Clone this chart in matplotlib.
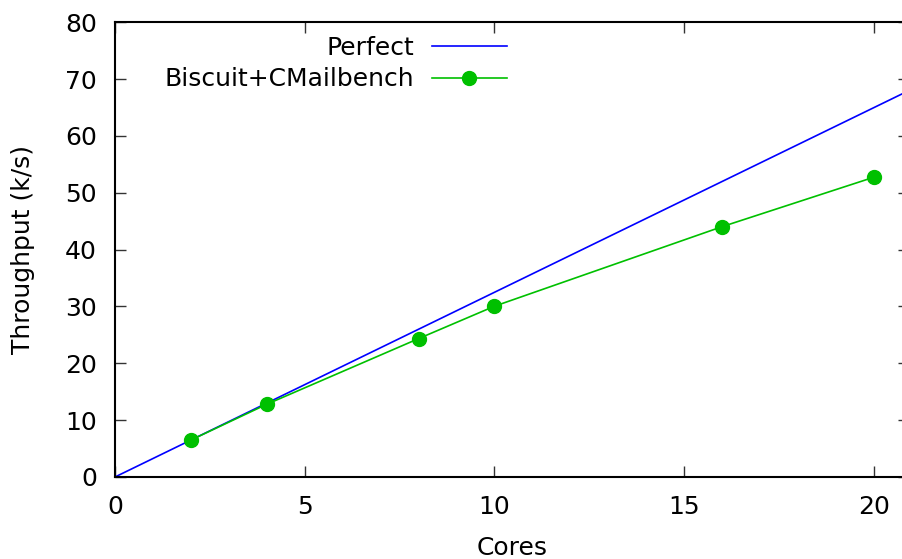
import matplotlib
matplotlib.use("Agg")
import matplotlib.pyplot as plt

cores = [2, 4, 8, 10, 16, 20]
throughput = [6.5, 12.8, 24.35, 30.05, 44.05, 52.75]
perfect_x = [0, 21]
perfect_y = [0, 68.25]
x_ticks = [0, 5, 10, 15, 20]
y_ticks = [0, 10, 20, 30, 40, 50, 60, 70, 80]

W, H = 903, 559
fig = plt.figure(figsize=(W / 100, H / 100), dpi=100)
left, right, top, bottom = 115, 909, 22.3, 477
ax = fig.add_axes([left / W, 1 - bottom / H, (right - left) / W, (bottom - top) / H])

ax.plot(perfect_x, perfect_y, color="#0000ff", lw=1.2, label="Perfect")
ax.plot(cores, throughput, color="#00c000", lw=1.2, marker="o", markersize=10,
        label="Biscuit+CMailbench")

ax.set_xlim(0, (right - left) / ((874 - 115) / 20))
ax.set_ylim(0, 80)
ax.set_xticks(x_ticks)
ax.set_yticks(y_ticks)
fs = 18
ax.tick_params(direction="in", length=8, width=1, color="#333333", labelsize=fs,
               top=True, right=True)
ax.tick_params(axis="y", pad=13)
ax.tick_params(axis="x", pad=13)
for s in ax.spines.values():
    s.set_linewidth(1.5)
ax.set_xlabel("Cores", fontsize=fs, labelpad=12)
ax.set_ylabel("Throughput (k/s)", fontsize=fs, labelpad=22)

leg = ax.legend(loc="upper right", bbox_to_anchor=(507 / W, 1 - 36 / H),
                bbox_transform=fig.transFigure, frameon=False, markerfirst=False,
                fontsize=fs, handlelength=3.0, handletextpad=0.7,
                borderpad=0, borderaxespad=0, labelspacing=0.3)
for t in leg.get_texts():
    t.set_ha("right")

fig.savefig("out.png", dpi=100)
